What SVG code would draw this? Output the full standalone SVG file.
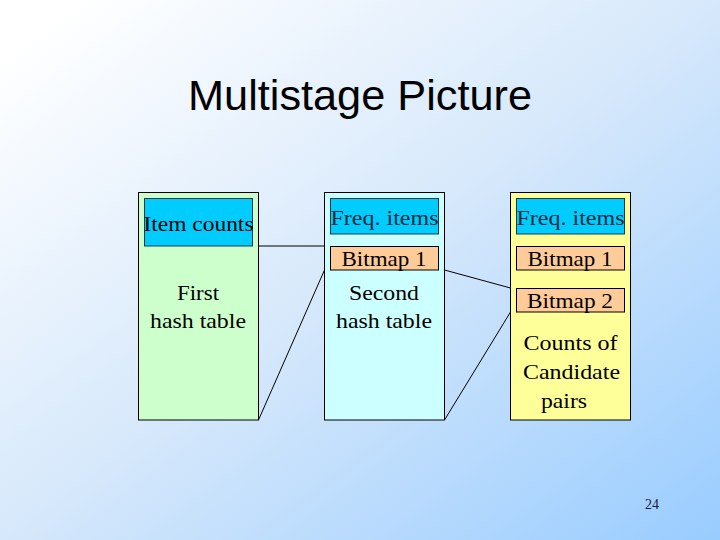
<svg xmlns="http://www.w3.org/2000/svg" width="720" height="540" viewBox="0 0 720 540">
  <defs>
    <linearGradient id="bg" x1="0" y1="0" x2="1" y2="1">
      <stop offset="0.05" stop-color="#FFFFFF"/>
      <stop offset="0.5" stop-color="#D6E8FB"/>
      <stop offset="1" stop-color="#99CCFF"/>
    </linearGradient>
  </defs>
  <style>
    .panel { stroke: #000; stroke-width: 1; }
    .cyan { fill: #00CCFF; stroke: #1a3a4a; stroke-width: 1; }
    .bmp { fill: #FFCC99; stroke: #000; stroke-width: 1; }
    .t { font-family: "Liberation Serif", "Times New Roman", serif; font-size: 21px; fill: #000; text-anchor: middle; }
    .tc { fill: #0c2a3c; }
    .conn { stroke: #000; stroke-width: 1; fill: none; }
  </style>
  <rect x="0" y="0" width="720" height="540" fill="url(#bg)"/>
  <text x="360" y="110" font-family="Liberation Sans, Arial, sans-serif" font-size="42" text-anchor="middle" textLength="344" lengthAdjust="spacingAndGlyphs" fill="#000">Multistage Picture</text>

  <g id="connectors">
    <line class="conn" x1="258.5" y1="246" x2="324.5" y2="246"/>
    <line class="conn" x1="258.5" y1="420" x2="324.5" y2="270"/>
    <line class="conn" x1="444.5" y1="270" x2="510.5" y2="288"/>
    <line class="conn" x1="444.5" y1="420" x2="510.5" y2="312"/>
  </g>

  <g id="stage1">
    <rect class="panel" x="138.5" y="192.5" width="120" height="227.5" fill="#CCFFCC"/>
    <rect class="cyan" x="144.5" y="198.5" width="108" height="47.5"/>
    <text class="t" x="198.5" y="231" textLength="110" lengthAdjust="spacingAndGlyphs">Item counts</text>
    <text class="t" x="198" y="300" textLength="42" lengthAdjust="spacingAndGlyphs">First</text>
    <text class="t" x="198" y="328" textLength="96" lengthAdjust="spacingAndGlyphs">hash table</text>
  </g>

  <g id="stage2">
    <rect class="panel" x="324.5" y="192.5" width="120" height="227.5" fill="#CCFFFF"/>
    <rect class="cyan" x="330.5" y="198.5" width="108" height="35.5"/>
    <text class="t tc" x="384.5" y="225" textLength="108" lengthAdjust="spacingAndGlyphs">Freq. items</text>
    <rect class="bmp" x="330.5" y="246.5" width="108" height="23.5"/>
    <text class="t" x="384" y="266" textLength="85" lengthAdjust="spacingAndGlyphs">Bitmap 1</text>
    <text class="t" x="384" y="300" textLength="70" lengthAdjust="spacingAndGlyphs">Second</text>
    <text class="t" x="384" y="328" textLength="96" lengthAdjust="spacingAndGlyphs">hash table</text>
  </g>

  <g id="stage3">
    <rect class="panel" x="510.5" y="192.5" width="120" height="227.5" fill="#FFFF99"/>
    <rect class="cyan" x="516.5" y="198.5" width="108" height="35.5"/>
    <text class="t tc" x="570.5" y="225" textLength="108" lengthAdjust="spacingAndGlyphs">Freq. items</text>
    <rect class="bmp" x="516.5" y="246.5" width="108" height="23.5"/>
    <text class="t" x="570" y="266" textLength="85" lengthAdjust="spacingAndGlyphs">Bitmap 1</text>
    <rect class="bmp" x="516.5" y="288.5" width="108" height="23.5"/>
    <text class="t" x="570" y="308" textLength="86" lengthAdjust="spacingAndGlyphs">Bitmap 2</text>
    <text class="t" x="570.5" y="350" textLength="94" lengthAdjust="spacingAndGlyphs">Counts of</text>
    <text class="t" x="571.5" y="379" textLength="97" lengthAdjust="spacingAndGlyphs">Candidate</text>
    <text class="t" x="564" y="408" textLength="46" lengthAdjust="spacingAndGlyphs">pairs</text>
  </g>

  <text x="652" y="509" font-family="Liberation Serif, Times New Roman, serif" font-size="14" text-anchor="middle" fill="#1a1a3a">24</text>
</svg>
